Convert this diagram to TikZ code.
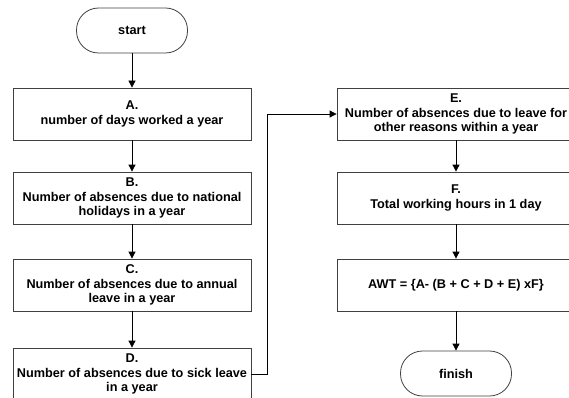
\documentclass[tikz,border=0pt]{standalone}
\usepackage{fontspec}
\setmainfont{Liberation Sans}
\usetikzlibrary{arrows.meta}
\tikzset{>={Triangle[width=7pt,length=7pt]}}
\tikzset{
procbox/.style={draw=black!75, line width=0.8pt, minimum width=238pt, minimum height=52pt, align=center, inner sep=2pt, font=\fontsize{12.7}{14.5}\selectfont\bfseries},
termnode/.style={draw=black!75, line width=0.8pt, minimum width=111pt, minimum height=45pt, rounded corners=22pt, font=\fontsize{12.7}{14.5}\selectfont\bfseries}
}
\begin{document}
\begin{tikzpicture}[x=1pt, y=-1pt]
\useasboundingbox (0,0) rectangle (569,398);
% left column
\node[termnode] (start) at (132,30.5) {start};
\node[procbox] (a) at (132,114) {A.\\number of days worked a year};
\node[procbox] (b) at (132,198) {B.\\Number of absences due to national\\holidays in a year};
\node[procbox] (c) at (132,285) {C.\\Number of absences due to annual\\leave in a year};
\node[procbox] (d) at (132,374) {D.\\Number of absences due to sick leave\\in a year};
% right column
\node[procbox] (e) at (456,114) {E.\\Number of absences due to leave for\\other reasons within a year};
\node[procbox] (f) at (456,198) {F.\\Total working hours in 1 day};
\node[procbox] (awt) at (456,285) {AWT = \{A- (B + C + D + E) xF\}};
\node[termnode] (finish) at (456,373.5) {finish};
\coordinate (jump) at (267,374);
\path[->, line width=0.8pt]
(start) edge (a)
(a) edge (b)
(b) edge (c)
(c) edge (d)
(e) edge (f)
(f) edge (awt)
(awt) edge (finish)
;
\draw[->, line width=0.8pt] (d.east) -- (jump) |- (e.west);
\end{tikzpicture}
\end{document}
